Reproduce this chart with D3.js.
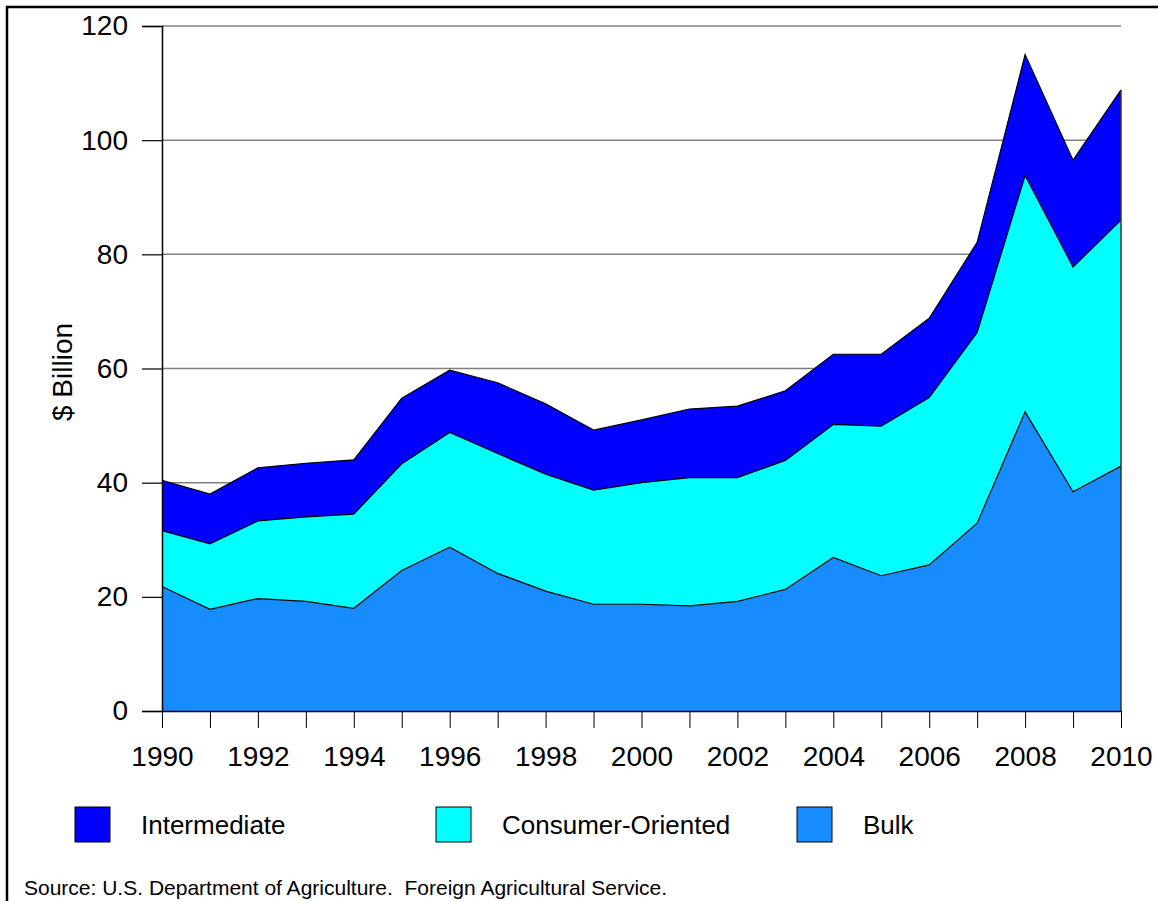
<!DOCTYPE html>
<html>
<head>
<meta charset="utf-8">
<script src="https://cdn.jsdelivr.net/npm/d3@7"></script>
<style>
  body { margin: 0; background: #fff; }
  text { font-family: "Liberation Sans", Arial, sans-serif; fill: #000; }
</style>
</head>
<body>
<svg width="1158" height="901"></svg>
<script>
// US agricultural exports by type, $ billion
var years = d3.range(1990, 2011);
var bulk = [21.8, 17.8, 19.7, 19.2, 18.0, 24.6, 28.7, 24.1, 21.0, 18.7, 18.7,
            18.4, 19.2, 21.3, 26.9, 23.7, 25.6, 32.9, 52.4, 38.4, 42.9];
var consumer = [9.8, 11.5, 13.6, 14.8, 16.5, 18.7, 20.1, 21.0, 20.5, 20.0, 21.3,
                22.5, 21.7, 22.6, 23.3, 26.2, 29.3, 33.4, 41.4, 39.4, 43.1];
var intermediate = [8.8, 8.7, 9.3, 9.4, 9.5, 11.5, 10.9, 12.4, 12.3, 10.5, 11.0,
                    12.0, 12.5, 12.2, 12.3, 12.6, 13.9, 15.8, 21.2, 18.7, 22.8];
var yTicks = [0, 20, 40, 60, 80, 100, 120];
var legendNames = ["Intermediate", "Consumer-Oriented", "Bulk"];

var keys = ["bulk", "consumer", "intermediate"];
var colors = { bulk: "#168cff", consumer: "#00ffff", intermediate: "#0000ff" };
var legendKeys = { "Intermediate": "intermediate", "Consumer-Oriented": "consumer", "Bulk": "bulk" };

var rows = years.map(function (yr, i) {
    return { year: yr, bulk: bulk[i], consumer: consumer[i], intermediate: intermediate[i] };
});

var svg = d3.select("svg");

// outer frame
svg.append("rect")
    .attr("x", 7).attr("y", 7)
    .attr("width", 1300).attr("height", 1000)
    .attr("fill", "none")
    .attr("stroke", "#000")
    .attr("stroke-width", 2.5);

var x = d3.scaleLinear().domain([1990, 2010]).range([162, 1121]);
var y = d3.scaleLinear().domain([0, 120]).range([711, 26]);

// gridlines
svg.append("g")
    .selectAll("line")
    .data(yTicks.filter(function (d) { return d > 0; }))
    .enter()
    .append("line")
    .attr("x1", 162).attr("x2", 1121)
    .attr("y1", function (d) { return y(d); })
    .attr("y2", function (d) { return y(d); })
    .attr("stroke", "#808080")
    .attr("stroke-width", 1.5);

var series = d3.stack().keys(keys)(rows);

var area = d3.area()
    .x(function (d) { return x(d.data.year); })
    .y0(function (d) { return y(d[0]); })
    .y1(function (d) { return y(d[1]); });

var line = d3.line()
    .x(function (d) { return x(d.data.year); })
    .y(function (d) { return y(d[1]); });

svg.append("g")
    .selectAll("path")
    .data(series)
    .enter()
    .append("path")
    .attr("d", area)
    .attr("fill", function (d) { return colors[d.key]; });

svg.append("g")
    .selectAll("path")
    .data(series)
    .enter()
    .append("path")
    .attr("d", line)
    .attr("fill", "none")
    .attr("stroke", "#000")
    .attr("stroke-width", 1.2);

// right edge of the plot
svg.append("line")
    .attr("x1", x(2010)).attr("x2", x(2010))
    .attr("y1", y(0)).attr("y2", y(series[2][20][1]))
    .attr("stroke", "#333")
    .attr("stroke-width", 1.5);

// y axis
var yAxis = d3.axisLeft(y)
    .tickValues(yTicks)
    .tickSize(20)
    .tickPadding(14)
    .tickFormat(d3.format("d"));

var gy = svg.append("g")
    .attr("transform", "translate(162,0)")
    .call(yAxis);
gy.select(".domain").attr("stroke", "#000").attr("stroke-width", 1.5);
gy.selectAll(".tick line").attr("stroke", "#000").attr("stroke-width", 1.2);
gy.selectAll("text")
    .attr("font-size", "28px")
    .attr("font-family", "Liberation Sans, Arial, sans-serif")
    .attr("fill", "#000");

// x axis
var xAxis = d3.axisBottom(x)
    .tickValues(years)
    .tickSize(17)
    .tickSizeOuter(0)
    .tickPadding(18)
    .tickFormat(function (d) { return d % 2 === 0 ? d : ""; });

var gx = svg.append("g")
    .attr("transform", "translate(0,711)")
    .call(xAxis);
gx.select(".domain").attr("stroke", "#000").attr("stroke-width", 1.5);
gx.selectAll(".tick line").attr("stroke", "#000").attr("stroke-width", 1);
gx.selectAll("text")
    .attr("font-size", "28px")
    .attr("font-family", "Liberation Sans, Arial, sans-serif")
    .attr("fill", "#000");

// y axis title
svg.append("text")
    .attr("transform", "translate(72,372) rotate(-90)")
    .attr("text-anchor", "middle")
    .attr("font-size", "28px")
    .text("$ Billion");

// legend
var legendX = d3.scalePoint().domain(legendNames).range([75, 797]);

var lg = svg.append("g")
    .selectAll("g")
    .data(legendNames)
    .enter()
    .append("g")
    .attr("transform", function (d) { return "translate(" + legendX(d) + ",807)"; });

lg.append("rect")
    .attr("width", 35).attr("height", 35)
    .attr("fill", function (d) { return colors[legendKeys[d]]; })
    .attr("stroke", "#000")
    .attr("stroke-width", 1);

lg.append("text")
    .attr("x", 66)
    .attr("y", 27)
    .attr("font-size", "26px")
    .text(function (d) { return d; });

// source note
svg.append("text")
    .attr("x", 24)
    .attr("y", 895)
    .attr("font-size", "21px")
    .attr("xml:space", "preserve")
    .style("white-space", "pre")
    .text("Source: U.S. Department of Agriculture.  Foreign Agricultural Service.");
</script>
</body>
</html>
